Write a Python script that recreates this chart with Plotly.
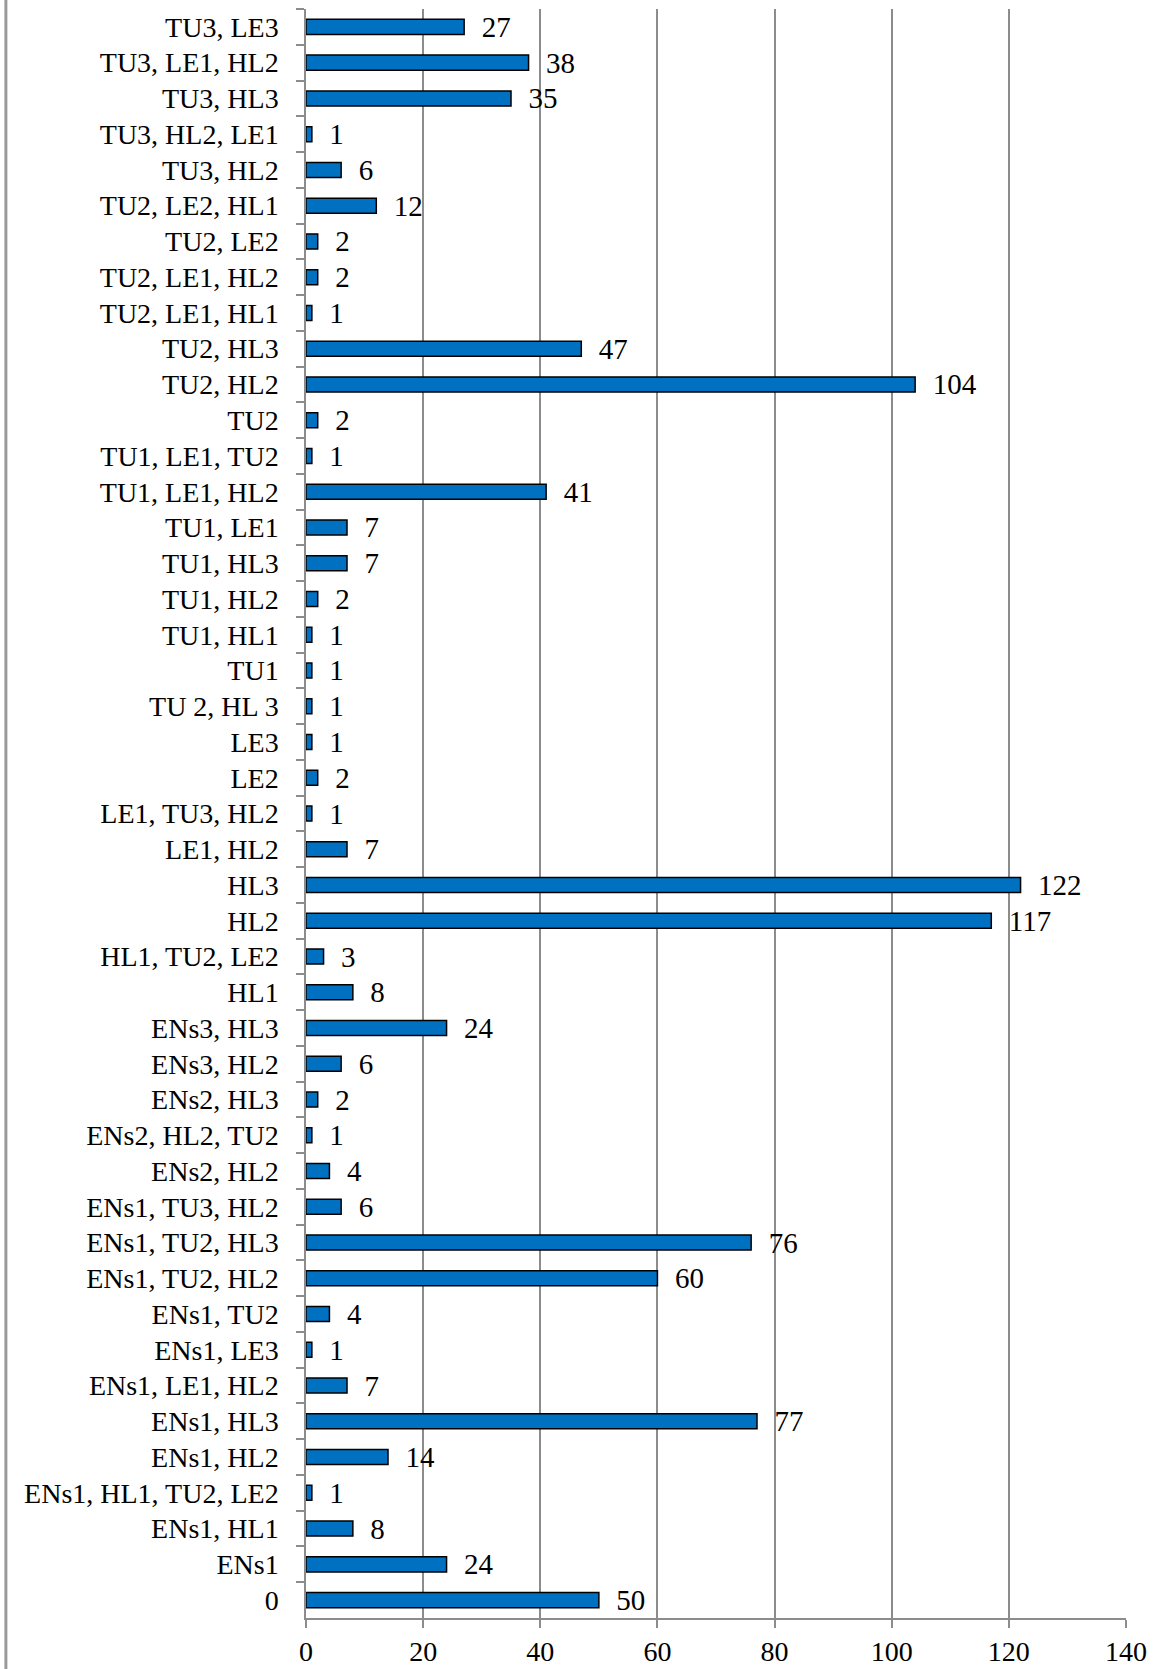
import plotly.graph_objects as go

categories = [
    "TU3, LE3", "TU3, LE1, HL2", "TU3, HL3", "TU3, HL2, LE1", "TU3, HL2",
    "TU2, LE2, HL1", "TU2, LE2", "TU2, LE1, HL2", "TU2, LE1, HL1", "TU2, HL3",
    "TU2, HL2", "TU2", "TU1, LE1, TU2", "TU1, LE1, HL2", "TU1, LE1",
    "TU1, HL3", "TU1, HL2", "TU1, HL1", "TU1", "TU 2, HL 3",
    "LE3", "LE2", "LE1, TU3, HL2", "LE1, HL2", "HL3",
    "HL2", "HL1, TU2, LE2", "HL1", "ENs3, HL3", "ENs3, HL2",
    "ENs2, HL3", "ENs2, HL2, TU2", "ENs2, HL2", "ENs1, TU3, HL2", "ENs1, TU2, HL3",
    "ENs1, TU2, HL2", "ENs1, TU2", "ENs1, LE3", "ENs1, LE1, HL2", "ENs1, HL3",
    "ENs1, HL2", "ENs1, HL1, TU2, LE2", "ENs1, HL1", "ENs1", "0",
]
values = [
    27, 38, 35, 1, 6,
    12, 2, 2, 1, 47,
    104, 2, 1, 41, 7,
    7, 2, 1, 1, 1,
    1, 2, 1, 7, 122,
    117, 3, 8, 24, 6,
    2, 1, 4, 6, 76,
    60, 4, 1, 7, 77,
    14, 1, 8, 24, 50,
]
x_ticks = [0, 20, 40, 60, 80, 100, 120, 140]

FONT = "Liberation Serif"
GREY = "#8c8c8c"

fig = go.Figure(go.Bar(
    x=values,
    y=categories,
    orientation="h",
    marker=dict(color="#0070C0", line=dict(color="#000000", width=1.5)),
    text=["\u00a0\u00a0" + str(v) for v in values],
    textposition="outside",
    constraintext="none",
    textfont=dict(family=FONT, size=29, color="#000000"),
    cliponaxis=False,
))

fig.update_layout(
    width=1159, height=1669,
    margin=dict(l=306, r=33, t=9, b=51),
    paper_bgcolor="white", plot_bgcolor="white",
    bargap=0.58,
    showlegend=False,
    font=dict(family=FONT, size=28, color="#000000"),
    shapes=[dict(type="line", xref="paper", yref="paper",
                 x0=-0.366, x1=-0.366, y0=-0.04, y1=1.01,
                 line=dict(color="#9a9a9a", width=3))],
)
fig.update_xaxes(
    range=[0, 140], tickvals=x_ticks,
    showgrid=True, gridcolor=GREY, gridwidth=1.5,
    showline=True, linecolor=GREY, linewidth=1.5,
    ticks="outside", ticklen=8, tickcolor=GREY, tickwidth=1.5,
    tickfont=dict(family=FONT, size=28, color="#000000"),
    ticklabelstandoff=0,
    zeroline=False, automargin=False,
)
fig.update_yaxes(
    type="category", autorange="reversed",
    showline=True, linecolor=GREY, linewidth=1.5,
    ticks="outside", ticklen=8, tickcolor=GREY, tickwidth=1.5,
    tickson="boundaries",
    tickfont=dict(family=FONT, size=28, color="#000000"),
    ticklabelstandoff=20,
    showgrid=False, automargin=False,
)

fig.write_html("out.html")
